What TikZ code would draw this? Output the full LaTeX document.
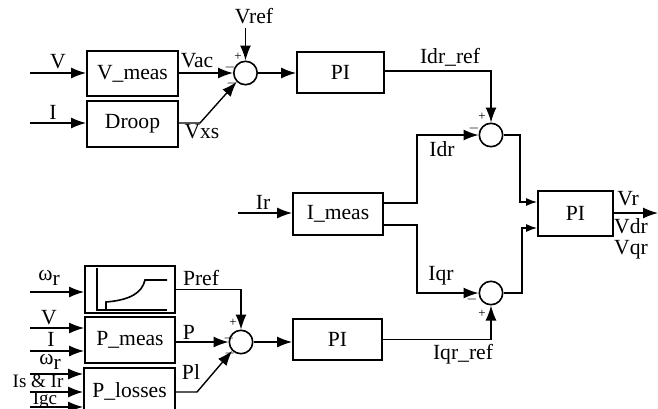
\documentclass[tikz,border=0pt]{standalone}
\usepackage{fontspec}
\setmainfont{Liberation Serif}
\usetikzlibrary{arrows.meta,calc}
\begin{document}
\begin{tikzpicture}[x=0.5pt,y=-0.5pt,
  font=\fontsize{10.8}{12}\selectfont,
  line width=0.7pt,
  >={Latex[length=7.5pt,width=5.5pt]},
  blk/.style={draw, line width=0.9pt, inner sep=0pt},
  sumc/.style={draw, circle, minimum size=11.7pt, inner sep=0pt, line width=0.8pt},
  sgn/.style={font=\fontsize{6.5}{6.5}\selectfont, inner sep=0pt},
  lbl/.style={inner sep=0pt},
  tight/.style={inner sep=0pt, font=\fontsize{9.5}{10}\selectfont},
  smallarr/.style={-{Latex[length=5.5pt,width=4pt]}}
]
\useasboundingbox (0,0) rectangle (658,408);
\clip (0,0) rectangle (658,408);

% blocks
\node[blk, minimum width=45.5pt, minimum height=22.5pt] (vmeas) at (132.5,73.5) {V\_meas};
\node[blk, minimum width=45.5pt, minimum height=23pt] (droop) at (132.5,124) {Droop};
\node[blk, minimum width=43.5pt, minimum height=20.5pt] (pi1) at (340.5,72.5) {PI};
\node[sumc] (sum1) at (245.5,73) {};
\node[sumc] (sum2) at (491,135) {};
\node[blk, minimum width=45pt, minimum height=21pt] (imeas) at (338,214) {I\_meas};
\node[blk, minimum width=37.5pt, minimum height=22.5pt] (pi2) at (575.5,213.5) {PI};
\node[sumc] (sum3) at (491,293) {};
\node[blk, minimum width=44.5pt, minimum height=20.5pt] (pi3) at (337.5,339.5) {PI};
\node[sumc] (sum4) at (241,342) {};
\node[blk, minimum width=45pt, minimum height=23.5pt] (curve) at (130,289.5) {};
\node[blk, minimum width=45pt, minimum height=23pt] (pmeas) at (130,340) {P\_meas};
\node[blk, minimum width=45.5pt, minimum height=23pt] (plosses) at (129.5,391) {P\_losses};

% characteristic inside curve block
\draw[line width=0.8pt] (97,268) -- (97,310) -- (167,310);
\draw[line width=0.8pt] (106,310) -- (106,302) .. controls (130,300) and (142,293) .. (145,280) -- (167,280);

% input free ends
\coordinate (inV) at (30,73);
\coordinate (inI) at (30,123);
\coordinate (inIr) at (238,213);
\coordinate (inW1) at (30,292);
\coordinate (inV2) at (30,328);
\coordinate (inI2) at (30,351);
\coordinate (inW2) at (30,374);
\coordinate (inIsr) at (30,392);
\coordinate (inIgc) at (30,407);
\coordinate (vrefc) at (245.5,28);
\coordinate (outV) at (658,213);

% bends
\coordinate (k1) at (200,123);
\coordinate (k2) at (197,392);
\coordinate (c1) at (491,71);
\coordinate (b1) at (417,203);
\coordinate (b2) at (417,225);
\coordinate (j1) at (520,202);
\coordinate (j2) at (522,228);

% inputs
\draw[->] (inV) -- (inV -| vmeas.west);
\draw[->] (inI) -- (inI -| droop.west);
\draw[->] (inIr) -- (inIr -| imeas.west);
\draw[->] (inW1) -- (inW1 -| curve.west);
\draw[->] (inV2) -- (inV2 -| pmeas.west);
\draw[->] (inI2) -- (inI2 -| pmeas.west);
\draw[->] (inW2) -- (inW2 -| plosses.west);
\draw[->] (inIsr) -- (inIsr -| plosses.west);
\draw[->] (inIgc) -- (inIgc -| plosses.west);

% voltage loop
\draw[->] (vrefc) -- (sum1.north);
\draw[->] (sum1.west -| vmeas.east) -- (sum1.west);
\draw[->] (k1 -| droop.east) -- (k1) -- (sum1.south west);
\draw[->] (sum1.east) -- (sum1.east -| pi1.west);

% current loops
\draw[->] (c1 -| pi1.east) -- (c1) -- (sum2.north);
\draw[->] (b1 -| imeas.east) -- (b1) |- (sum2.west);
\draw[->] (b2 -| imeas.east) -- (b2) |- (sum3.west);
\draw[smallarr] (sum2.east) -| (j1) -- (j1 -| pi2.west);
\draw[smallarr] (sum3.east) -| (j2) -- (j2 -| pi2.west);
\draw[->] (pi3.east) -| (sum3.south);
\draw[->] (outV -| pi2.east) -- (outV);

% power loop
\draw[->] (curve.east) -| (sum4.north);
\draw[->] (sum4.west -| pmeas.east) -- (sum4.west);
\draw[->] (k2 -| plosses.east) -- (k2) -- (sum4.south west);
\draw[->] (sum4.east) -- (sum4.east -| pi3.west);

% labels
\node[lbl] (lV) at (58,62) {V};
\node[lbl] (lI) at (53,112) {I};
\node[lbl] (lVac) at (197,61) {Vac};
\node[lbl] (lVxs) at (202,132) {Vxs};
\node[lbl] (lVref) at (254,16) {Vref};
\node[lbl] (lIdrref) at (450,57) {Idr\_ref};
\node[lbl] (lIdr) at (442,149) {Idr};
\node[lbl] (lIr) at (263,202) {Ir};
\node[lbl] (lVr) at (628,199) {Vr};
\node[lbl] (lVdr) at (631,226) {Vdr};
\node[lbl] (lVqr) at (631,250) {Vqr};
\node[lbl] (lIqr) at (441,276) {Iqr};
\node[lbl] (lIqrref) at (463,354) {Iqr\_ref};
\node[lbl] (lW1) at (49,278) {ω\raisebox{-0.45ex}{r}};
\node[lbl] (lPref) at (201,278) {Pref};
\node[lbl] (lV2) at (49,318) {V};
\node[lbl] (lI2) at (51,339) {I};
\node[lbl] (lP) at (189,332) {P};
\node[lbl] (lW2) at (50,362) {ω\raisebox{-0.45ex}{r}};
\node[lbl] (lPl) at (191,372) {Pl};
\node[tight] (lIsr) at (38,381) {Is \& Ir};
\node[tight] (lIgc) at (45,400) {Igc};

% signs
\node[sgn] at (238,57) {+};
\node[sgn] at (230,67) {$-$};
\node[sgn] at (232,83) {$-$};
\node[sgn] at (482,117) {+};
\node[sgn] at (474,128) {$-$};
\node[sgn] at (472,299) {$-$};
\node[sgn] at (482,314) {+};
\node[sgn] at (233,323) {+};
\node[sgn] at (229,338) {$-$};
\node[sgn] at (230,353) {$-$};
\end{tikzpicture}
\end{document}
